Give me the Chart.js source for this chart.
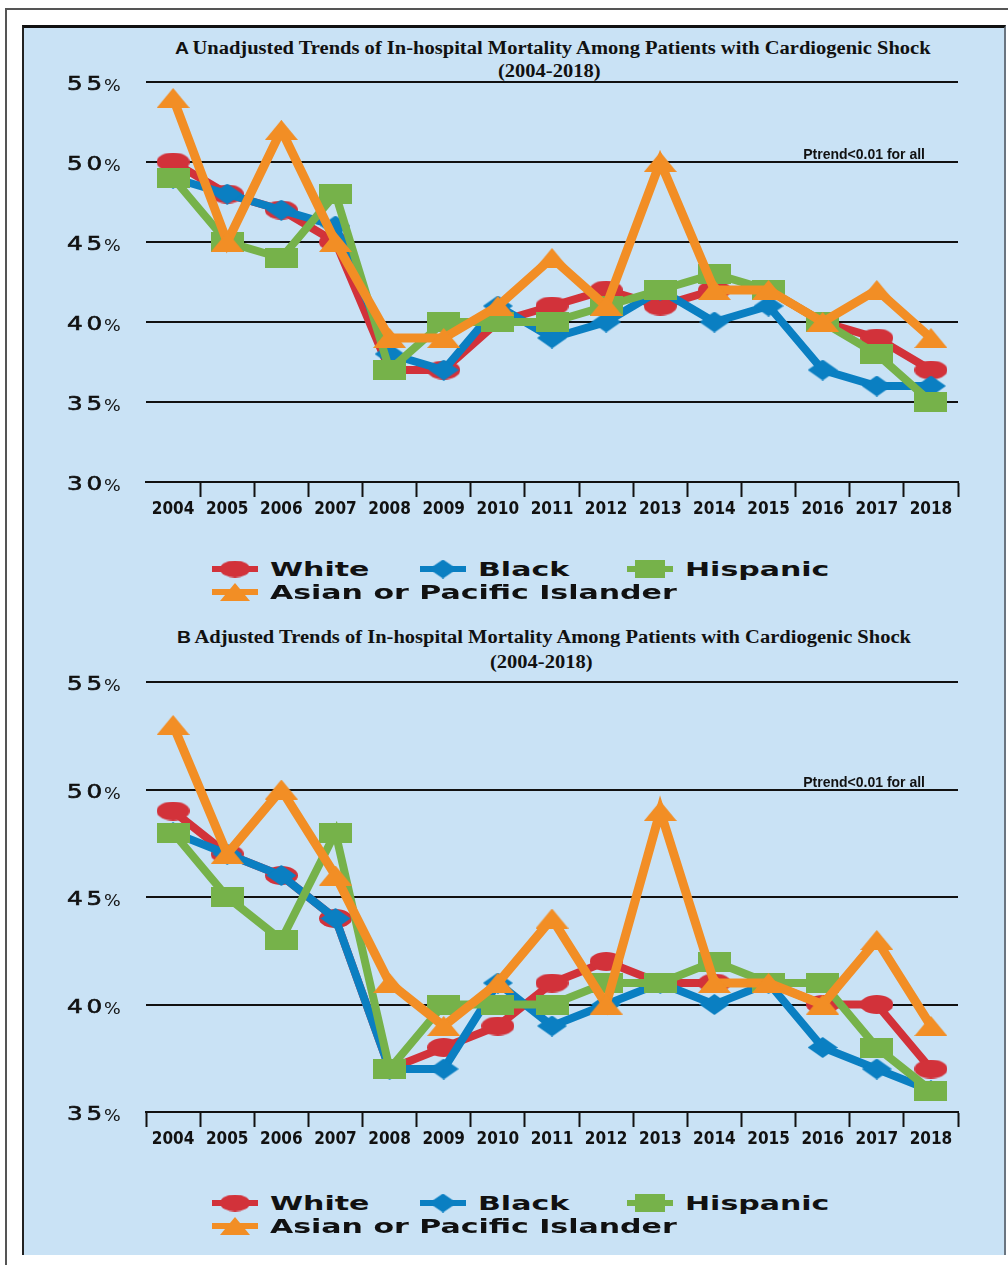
<!DOCTYPE html>
<html>
<head>
<meta charset="utf-8">
<script src="https://cdn.jsdelivr.net/npm/chart.js@4.4.0/dist/chart.umd.min.js"></script>
<style>
	body { margin: 0; width: 1008px; height: 1265px; background: #fff; position: relative; overflow: hidden; }
	#frame { position: absolute; left: 5px; top: 8px; right: 0; bottom: 0; border-top: 2px solid #555; border-left: 2px solid #555; }
	#panel { position: absolute; left: 22px; top: 25px; width: 984px; height: 1230px; background: #c9e2f5; border-top: 3px solid #111; border-left: 2px solid #222; border-right: 2px solid #6a7580; box-sizing: border-box; }
	.title, .sub { position: absolute; white-space: nowrap; color: #111; line-height: 18px; transform: scaleX(1.14); transform-origin: left top; }
	.title .tag { font: bold 17px "Liberation Sans", sans-serif; margin-right: 3px; }
	.title .main, .sub { font: bold 18px "Liberation Serif", serif; }
	.chart { position: absolute; left: 22px; }
	.leg { position: absolute; height: 24px; display: flex; align-items: center; }
	.leg span { font: bold 20px "DejaVu Sans", sans-serif; color: #111; display: inline-block; transform: scaleX(1.5); transform-origin: left center; margin-left: 12px; }
</style>
</head>
<body>
<div id="frame"></div>
<div id="panel"></div>

<div class="title" style="left:175px;top:38px"><span class="tag">A</span><span class="main">Unadjusted Trends of In-hospital Mortality Among Patients with Cardiogenic Shock</span></div>
<div class="sub" style="left:498px;top:61px">(2004-2018)</div>
<canvas id="chart-unadjusted" class="chart" style="top:72px" width="986" height="450"></canvas>
<div id="legend-a"></div>

<div class="title" style="left:177px;top:627px"><span class="tag">B</span><span class="main">Adjusted Trends of In-hospital Mortality Among Patients with Cardiogenic Shock</span></div>
<div class="sub" style="left:490px;top:652px">(2004-2018)</div>
<canvas id="chart-adjusted" class="chart" style="top:672px" width="986" height="480"></canvas>
<div id="legend-b"></div>

<script>
const years = ["2004", "2005", "2006", "2007", "2008", "2009", "2010", "2011", "2012", "2013", "2014", "2015", "2016", "2017", "2018"];
const groups = ["White", "Black", "Hispanic", "Asian or Pacific Islander"];

// A: unadjusted in-hospital mortality (%)
const whiteA = [50, 48, 47, 45, 37, 37, 40, 41, 42, 41, 42, 42, 40, 39, 37];
const blackA = [49, 48, 47, 46, 38, 37, 41, 39, 40, 42, 40, 41, 37, 36, 36];
const hispanicA = [49, 45, 44, 48, 37, 40, 40, 40, 41, 42, 43, 42, 40, 38, 35];
const asianA = [54, 45, 52, 45, 39, 39, 41, 44, 41, 50, 42, 42, 40, 42, 39];

// B: adjusted in-hospital mortality (%)
const whiteB = [49, 47, 46, 44, 37, 38, 39, 41, 42, 41, 41, 41, 40, 40, 37];
const blackB = [48, 47, 46, 44, 37, 37, 41, 39, 40, 41, 40, 41, 38, 37, 36];
const hispanicB = [48, 45, 43, 48, 37, 40, 40, 40, 41, 41, 42, 41, 41, 38, 36];
const asianB = [53, 47, 50, 46, 41, 39, 41, 44, 40, 49, 41, 41, 40, 43, 39];

const yTicksA = [30, 35, 40, 45, 50, 55];
const yTicksB = [35, 40, 45, 50, 55];
const trendNote = "Ptrend<0.01 for all";

const COLORS = ["#d2323a", "#0a7fc2", "#76b24a", "#f28e25"];
const SHAPES = ["ellipse", "diamond", "rect", "tri"];
const SIZES = [[33, 19], [30, 21], [33, 20], [33, 20]];

// marker images (the figure has stretched, non-square markers)
const makeMarker = (shape, color, w, h) => {
	const c = document.createElement("canvas");
	c.width = w;
	c.height = h;
	const g = c.getContext("2d");
	g.fillStyle = color;
	g.beginPath();
	if (shape === "ellipse") g.ellipse(w / 2, h / 2, w / 2, h / 2, 0, 0, Math.PI * 2);
	else if (shape === "rect") g.rect(0, 0, w, h);
	else if (shape === "tri") { g.moveTo(w / 2, 0); g.lineTo(w, h); g.lineTo(0, h); }
	else { g.moveTo(w / 2, 0); g.lineTo(w, h / 2); g.lineTo(w / 2, h); g.lineTo(0, h / 2); }
	g.closePath();
	g.fill();
	return c;
};

const markers = SHAPES.map((s, i) => makeMarker(s, COLORS[i], SIZES[i][0], SIZES[i][1]));

// y labels drawn by hand for the wide, spaced look; positions come from the scale
const yLabels = {
	id: "yLabels",
	afterDraw(chart) {
		const { ctx } = chart;
		const y = chart.scales.y;
		ctx.save();
		ctx.fillStyle = "#111";
		ctx.strokeStyle = "#111";
		ctx.lineWidth = 0.6;
		ctx.textBaseline = "alphabetic";
		y.ticks.forEach((t) => {
			const py = y.getPixelForValue(t.value);
			const txt = String(t.value);
			ctx.save();
			ctx.translate(45, py + 8);
			ctx.save();
			ctx.scale(1.3, 1);
			ctx.font = '19px "DejaVu Sans", sans-serif';
			ctx.letterSpacing = "3px";
			ctx.fillText(txt, 0, 0);
			ctx.strokeText(txt, 0, 0);
			const w = ctx.measureText(txt).width * 1.3;
			ctx.restore();
			ctx.scale(1.1, 1);
			ctx.font = '16px "DejaVu Sans", sans-serif';
			ctx.fillText("%", w / 1.1 - 2, 1);
			ctx.restore();
		});
		// trend note sits on the 50% line
		ctx.font = 'bold 14px "Liberation Sans", Arial, sans-serif';
		ctx.textAlign = "right";
		ctx.fillText(trendNote, 925 - 22, y.getPixelForValue(50) - 3);
		ctx.restore();
	},
};

const makeChart = (id, series, yTicks, hideFirstTick) => {
	const CHART_DATA = {
		labels: years,
		datasets: series.map((data, i) => ({
			label: groups[i],
			data: data,
			borderColor: COLORS[i],
			backgroundColor: COLORS[i],
			borderWidth: i === 3 ? 9 : 8,
			borderJoinStyle: "miter",
			pointStyle: markers[i],
			pointRadius: 4,
			tension: 0,
			clip: false,
			order: 3 - i,
		})),
	};

	return new Chart(document.getElementById(id), {
		type: "line",
		data: CHART_DATA,
		options: {
			responsive: false,
			animation: false,
			devicePixelRatio: 1,
			layout: { autoPadding: false, padding: { top: 10, right: 50, left: 0, bottom: 0 } },
			plugins: {
				legend: { display: false },
				tooltip: { enabled: false },
			},
			scales: {
				x: {
					offset: true,
					grid: {
						offset: true,
						drawOnChartArea: false,
						drawTicks: true,
						tickLength: 15,
						tickWidth: 2,
						tickColor: (c) => (hideFirstTick && c.index === 0 ? "rgba(0,0,0,0)" : "#111"),
					},
					border: { display: true, color: "#111", width: 2 },
					ticks: {
						color: "#111",
						padding: 2,
						autoSkip: false,
						maxRotation: 0,
						font: { family: '"DejaVu Sans Condensed", "Liberation Sans Narrow", sans-serif', weight: "bold", size: 17 },
					},
					afterFit: (s) => { s.height = 40; },
				},
				y: {
					min: yTicks[0],
					max: yTicks[yTicks.length - 1],
					afterBuildTicks: (s) => { s.ticks = yTicks.map((v) => ({ value: v })); },
					grid: { color: "#111", lineWidth: 2, drawTicks: false },
					border: { display: false },
					ticks: { display: false },
					afterFit: (s) => { s.width = 124; },
				},
			},
		},
		plugins: [yLabels],
	});
};

// html legend, two rows like the figure
const makeLegend = (id, rowTop) => {
	const wrap = document.getElementById(id);
	const lefts = [212, 420, 627, 212];
	groups.forEach((name, i) => {
		const item = document.createElement("div");
		item.className = "leg";
		item.style.left = lefts[i] + "px";
		item.style.top = rowTop + (i === 3 ? 23 : 0) + "px";
		const c = document.createElement("canvas");
		c.width = 46;
		c.height = 24;
		const g = c.getContext("2d");
		g.strokeStyle = COLORS[i];
		g.lineWidth = 6;
		g.beginPath();
		g.moveTo(0, 12);
		g.lineTo(46, 12);
		g.stroke();
		const m = makeMarker(SHAPES[i], COLORS[i], Math.round(SIZES[i][0] * 0.92), Math.round(SIZES[i][1] * 0.9));
		g.drawImage(m, 23 - m.width / 2, 12 - m.height / 2);
		const label = document.createElement("span");
		label.textContent = name;
		item.appendChild(c);
		item.appendChild(label);
		wrap.appendChild(item);
	});
};

makeChart("chart-unadjusted", [whiteA, blackA, hispanicA, asianA], yTicksA, true);
makeChart("chart-adjusted", [whiteB, blackB, hispanicB, asianB], yTicksB, false);
makeLegend("legend-a", 557);
makeLegend("legend-b", 1191);
</script>
</body>
</html>
